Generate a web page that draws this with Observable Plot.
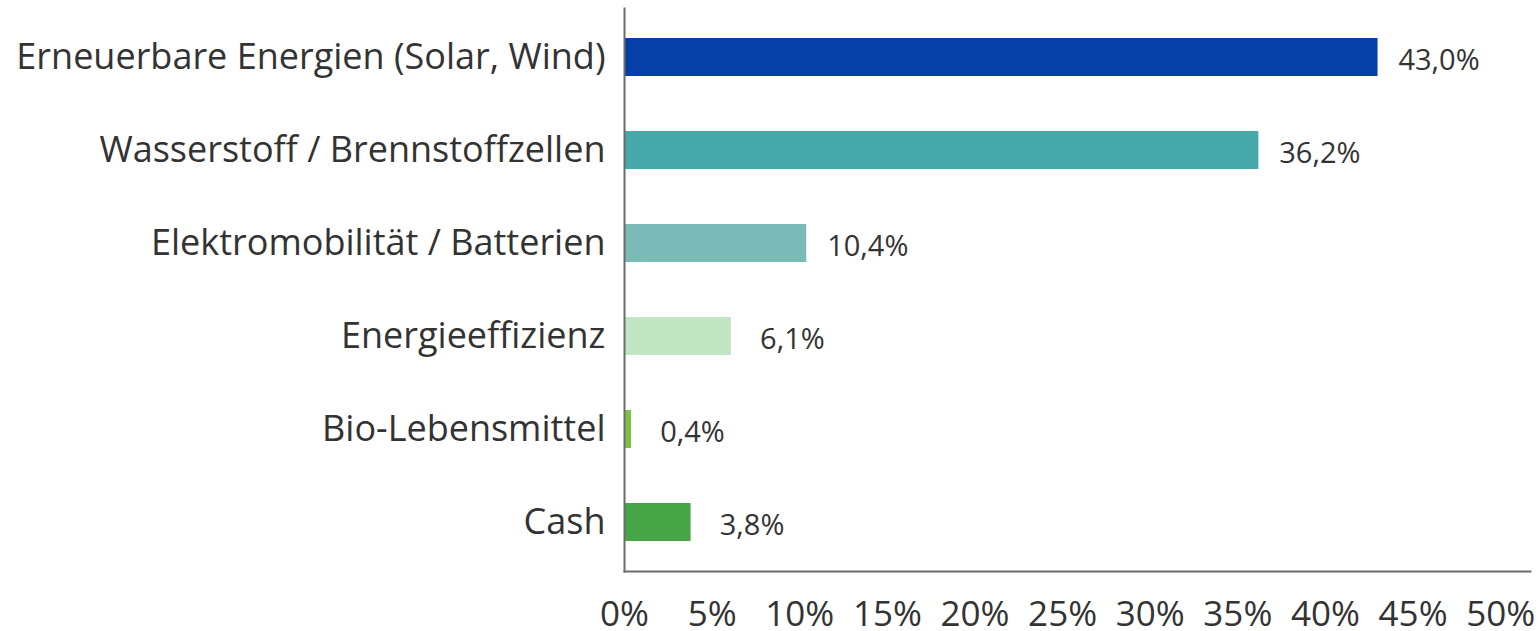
<!DOCTYPE html>
<html>
<head>
<meta charset="utf-8">
<script src="https://cdn.jsdelivr.net/npm/d3@7"></script>
<script src="https://cdn.jsdelivr.net/npm/@observablehq/plot@0.6"></script>
<style>
  html, body { margin: 0; padding: 0; background: #fff; }
  #chart { width: 1540px; height: 631px; }
</style>
</head>
<body>
<div id="chart"></div>
<script>
const categories = [
  "Erneuerbare Energien (Solar, Wind)",
  "Wasserstoff / Brennstoffzellen",
  "Elektromobilität / Batterien",
  "Energieeffizienz",
  "Bio-Lebensmittel",
  "Cash"
];
const values = [43.0, 36.2, 10.4, 6.1, 0.4, 3.8];
const barColors = ["#0540A8", "#46A8A8", "#7ABBB8", "#C2E5C4", "#7DC142", "#47A547"];
const xTicks = [0, 5, 10, 15, 20, 25, 30, 35, 40, 45, 50];

const data = categories.map((c, i) => ({category: c, value: values[i]}));
const fmt = v => v.toFixed(1).replace(".", ",") + "%";

const chart = Plot.plot({
  width: 1540,
  height: 631,
  marginLeft: 624,
  marginRight: 10,
  marginTop: 8,
  marginBottom: 60,
  style: {fontFamily: "'Open Sans', sans-serif", color: "#333", background: "#fff"},
  x: {domain: [0, 51.7], ticks: xTicks, tickFormat: d => d + "%", tickSize: 0, tickPadding: 30, label: null},
  y: {domain: categories, paddingInner: 0.593, paddingOuter: 0.31, tickSize: 0, tickPadding: 19, label: null},
  color: {domain: categories, range: barColors},
  marks: [
    Plot.barX(data, {x: "value", y: "category", fill: "category"}),
    Plot.text(data, {x: "value", y: "category", text: d => fmt(d.value), dx: 61, dy: 3, textAnchor: "middle", fontSize: 29, fill: "#333"}),
    Plot.axisX({ticks: xTicks, tickFormat: d => d + "%", tickSize: 0, tickPadding: 30, fontSize: 35, fill: "#333", label: null}),
    Plot.axisY({tickSize: 0, tickPadding: 19, fontSize: 36, fill: "#333", label: null}),
    Plot.frame({anchor: "left", stroke: "#6b6b6b", strokeWidth: 2, strokeOpacity: 1}),
    Plot.frame({anchor: "bottom", stroke: "#6b6b6b", strokeWidth: 2, strokeOpacity: 1})
  ]
});
document.getElementById("chart").appendChild(chart);
</script>
</body>
</html>
